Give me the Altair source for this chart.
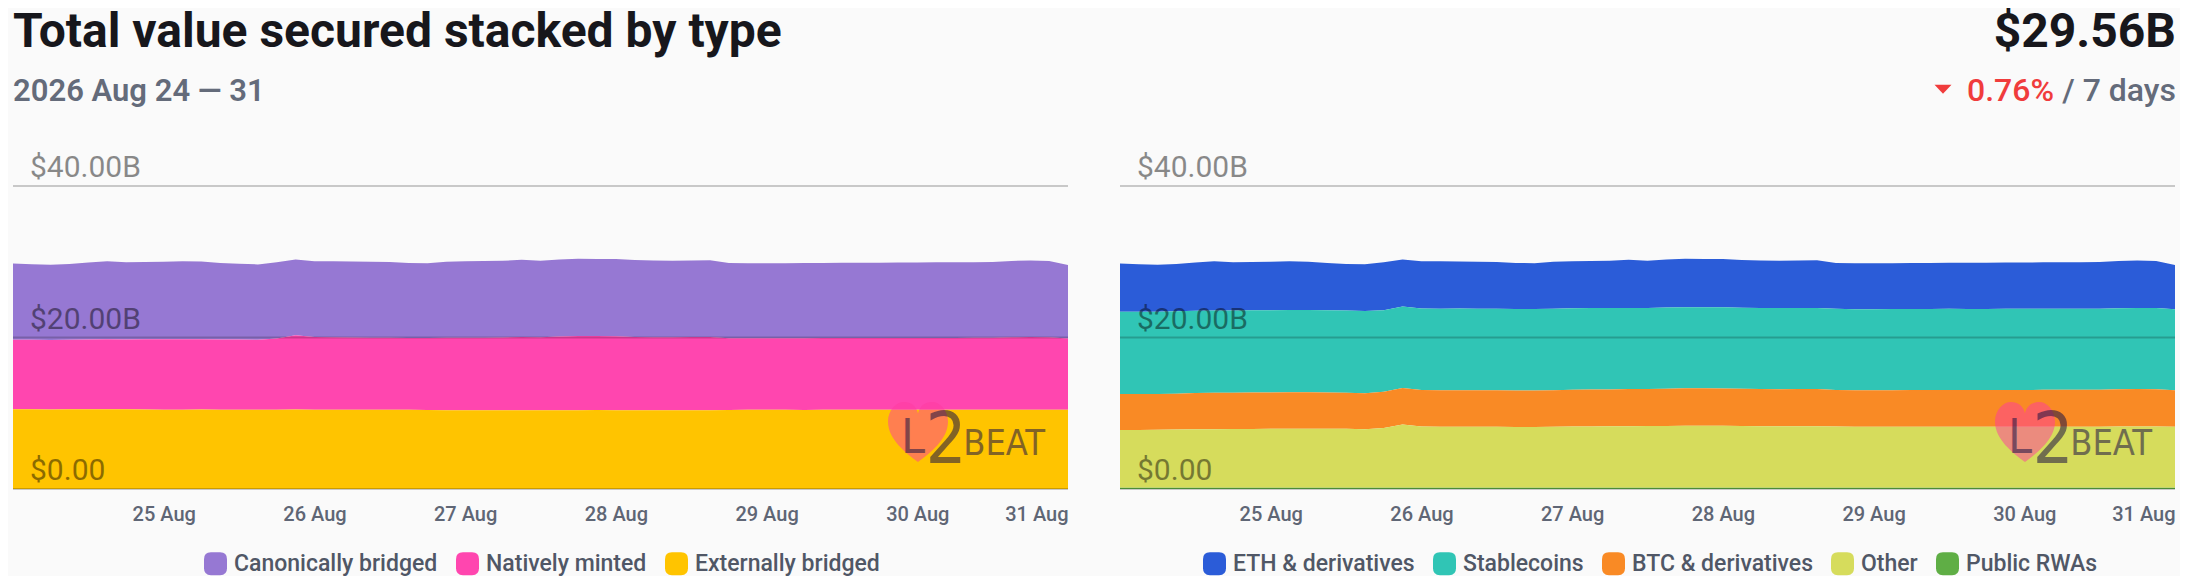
import altair as alt
import pandas as pd

# ---------------- data (values in billions USD, 3-hourly, 24 Aug 00:00 -> 31 Aug 00:00) ----------------
times = pd.date_range("2026-08-24 00:00", periods=57, freq="3h").strftime("%Y-%m-%dT%H:%M:%S").tolist()

LEFT_NAMES = ["Canonically bridged", "Natively minted", "Externally bridged"]
LEFT_COLORS = ["#9678d3", "#ff46af", "#ffc400"]

canonical = [10.05, 9.96, 9.93, 10.00, 10.16, 10.30, 10.19, 10.22, 10.25, 10.28,
             10.24, 10.11, 10.00, 9.96, 10.05, 10.00, 10.01, 10.02, 10.03, 10.03,
             10.00, 9.92, 9.87, 10.02, 10.08, 10.11, 10.12, 10.19, 10.11, 10.18,
             10.19, 10.18, 10.20, 10.15, 10.13, 10.11, 10.12, 10.13, 9.91, 9.89,
             9.89, 9.90, 9.91, 9.91, 9.93, 9.94, 9.94, 9.96, 9.96, 9.98,
             9.98, 9.99, 10.01, 10.08, 10.12, 10.08, 9.70]
native = [9.19, 9.18, 9.16, 9.18, 9.22, 9.24, 9.22, 9.28, 9.29, 9.31,
          9.30, 9.27, 9.25, 9.23, 9.41, 9.83, 9.58, 9.57, 9.53, 9.51,
          9.50, 9.47, 9.52, 9.56, 9.57, 9.58, 9.59, 9.67, 9.62, 9.71,
          9.79, 9.77, 9.75, 9.67, 9.63, 9.62, 9.64, 9.65, 9.47, 9.46,
          9.46, 9.46, 9.47, 9.47, 9.48, 9.48, 9.48, 9.49, 9.49, 9.50,
          9.50, 9.50, 9.51, 9.57, 9.60, 9.57, 9.41]
external = [10.52, 10.52, 10.51, 10.52, 10.52, 10.53, 10.52, 10.48, 10.47, 10.47,
            10.48, 10.47, 10.47, 10.46, 10.47, 10.48, 10.47, 10.47, 10.46, 10.47,
            10.47, 10.46, 10.42, 10.41, 10.41, 10.40, 10.41, 10.41, 10.40, 10.41,
            10.41, 10.42, 10.41, 10.41, 10.40, 10.41, 10.41, 10.41, 10.44, 10.45,
            10.45, 10.45, 10.44, 10.45, 10.45, 10.45, 10.46, 10.45, 10.45, 10.45,
            10.45, 10.46, 10.45, 10.45, 10.45, 10.45, 10.45]

RIGHT_NAMES = ["ETH & derivatives", "Stablecoins", "BTC & derivatives", "Other", "Public RWAs"]
RIGHT_COLORS = ["#2b5cd8", "#30c5b5", "#f98a25", "#d6dc5c", "#5fae45"]

eth = [6.36, 6.27, 6.21, 6.25, 6.38, 6.49, 6.36, 6.38, 6.40, 6.43,
       6.38, 6.25, 6.15, 6.15, 6.34, 6.22, 6.22, 6.25, 6.22, 6.21,
       6.18, 6.10, 6.05, 6.18, 6.21, 6.22, 6.21, 6.37, 6.25, 6.36,
       6.40, 6.37, 6.38, 6.29, 6.27, 6.26, 6.28, 6.30, 6.05, 6.05,
       6.05, 6.06, 6.07, 6.07, 6.09, 6.10, 6.10, 6.12, 6.12, 6.14,
       6.14, 6.15, 6.17, 6.24, 6.27, 6.22, 5.84]
stable = [10.86, 10.86, 10.87, 10.86, 10.86, 10.85, 10.86, 10.86, 10.86, 10.87,
          10.86, 10.86, 10.85, 10.86, 10.77, 10.76, 10.76, 10.76, 10.77, 10.76,
          10.76, 10.75, 10.76, 10.76, 10.76, 10.77, 10.76, 10.70, 10.70, 10.71,
          10.70, 10.70, 10.70, 10.70, 10.71, 10.70, 10.70, 10.70, 10.70, 10.69,
          10.70, 10.70, 10.70, 10.70, 10.71, 10.70, 10.70, 10.70, 10.70, 10.70,
          10.71, 10.70, 10.70, 10.70, 10.70, 10.70, 10.70]
btc = [4.75, 4.73, 4.72, 4.74, 4.78, 4.81, 4.79, 4.80, 4.81, 4.82,
       4.81, 4.78, 4.76, 4.75, 4.78, 4.82, 4.83, 4.83, 4.83, 4.83,
       4.82, 4.80, 4.79, 4.83, 4.85, 4.86, 4.87, 4.90, 4.88, 4.91,
       4.93, 4.93, 4.93, 4.91, 4.90, 4.89, 4.90, 4.90, 4.84, 4.83,
       4.83, 4.83, 4.84, 4.84, 4.85, 4.85, 4.85, 4.86, 4.86, 4.87,
       4.87, 4.87, 4.88, 4.92, 4.94, 4.92, 4.80]
other = [7.64, 7.65, 7.67, 7.70, 7.73, 7.75, 7.77, 7.78, 7.79, 7.80,
         7.81, 7.81, 7.80, 7.75, 7.90, 8.35, 8.10, 8.07, 8.07, 8.06,
         8.06, 8.05, 8.05, 8.07, 8.09, 8.11, 8.13, 8.15, 8.16, 8.18,
         8.21, 8.21, 8.20, 8.18, 8.15, 8.14, 8.14, 8.14, 8.09, 8.07,
         8.06, 8.07, 8.07, 8.08, 8.07, 8.07, 8.06, 8.07, 8.07, 8.07,
         8.08, 8.07, 8.07, 8.09, 8.11, 8.11, 8.07]
rwa = [0.15, 0.15, 0.15, 0.15, 0.15, 0.15, 0.15, 0.15, 0.15, 0.15,
       0.15, 0.15, 0.15, 0.15, 0.15, 0.15, 0.15, 0.15, 0.15, 0.15,
       0.15, 0.15, 0.15, 0.15, 0.15, 0.15, 0.15, 0.15, 0.15, 0.15,
       0.15, 0.15, 0.15, 0.15, 0.15, 0.15, 0.15, 0.15, 0.15, 0.15,
       0.15, 0.15, 0.15, 0.15, 0.15, 0.15, 0.15, 0.15, 0.15, 0.15,
       0.15, 0.15, 0.15, 0.15, 0.15, 0.15, 0.15]

GRID_VALUES = [0, 20, 40]
GRID_LABELS = ["$0.00", "$20.00B", "$40.00B"]
TICK_DAYS = [25, 26, 27, 28, 29, 30, 31]

TITLE = "Total value secured stacked by type"
SUBTITLE = "2026 Aug 24 \u2014 31"
TOTAL = "$29.56B"
CHANGE = "0.76%"
PERIOD = "/ 7 days"

# ---------------- styling ----------------
FONT = "Roboto"
W, H = 1055, 303
ROUNDED = ("M -1 -0.4 Q -1 -1 -0.4 -1 L 0.4 -1 Q 1 -1 1 -0.4 L 1 0.4 "
           "Q 1 1 0.4 1 L -0.4 1 Q -1 1 -1 0.4 Z")
HEART = ("M 0 1 C -0.4 0.7 -1 0.25 -1 -0.35 C -1 -0.75 -0.7 -1 -0.48 -1 "
         "C -0.22 -1 -0.05 -0.85 0 -0.62 C 0.05 -0.85 0.22 -1 0.48 -1 "
         "C 0.7 -1 1 -0.75 1 -0.35 C 1 0.25 0.4 0.7 0 1 Z")
TRI = "M -1 -0.5 L 1 -0.5 L 0 0.55 Z"
LOGO_FONT = "Liberation Sans Narrow, DejaVu Sans Condensed, Roboto"
LOGO_COLOR = "#1d1444"


def long_df(names, series):
    rows = []
    n = len(names)
    for k, (name, vals) in enumerate(zip(names, series)):
        for t, v in zip(times, vals):
            rows.append({"time": t, "series": name, "value": v, "rank": n - 1 - k})
    return pd.DataFrame(rows)


def one(col, val):
    return pd.DataFrame({col: [val]})


def logo_text(txt, size, x, y, align):
    return alt.Chart(one("t", txt)).mark_text(
        align=align, baseline="alphabetic", fontSize=size, font=LOGO_FONT,
        color=LOGO_COLOR, opacity=0.55,
    ).encode(x=alt.value(x), y=alt.value(y), text="t:N")


def panel(names, colors, series, legend_x, header_layers):
    df = long_df(names, series)
    area = alt.Chart(df).mark_area(interpolate="linear", opacity=1).encode(
        x=alt.X(
            "time:T",
            scale=alt.Scale(domain=[alt.DateTime(year=2026, month=8, date=24),
                                    alt.DateTime(year=2026, month=8, date=31)], nice=False),
            axis=alt.Axis(
                values=[alt.DateTime(year=2026, month=8, date=d) for d in TICK_DAYS],
                format="%-d %b", title=None, grid=False, domain=False, ticks=False,
                tickSize=0, labelPadding=31, labelBaseline="alphabetic",
                labelFontSize=20, labelFontWeight=500, labelColor="#5f6675",
                labelFont=FONT, labelFlush=True, labelOverlap=False, labelBound=False,
            ),
        ),
        y=alt.Y("value:Q", stack="zero",
                scale=alt.Scale(domain=[0, 40], nice=False, zero=True), axis=None),
        color=alt.Color(
            "series:N",
            scale=alt.Scale(domain=names, range=colors),
            legend=alt.Legend(
                orient="none", legendX=legend_x, legendY=366, direction="horizontal",
                title=None, symbolType=ROUNDED, symbolSize=529, symbolStrokeWidth=0,
                symbolOpacity=1, labelFontSize=23, labelFontWeight=500,
                labelColor="#505766", labelFont=FONT, labelOffset=7, columnPadding=18,
                labelLimit=400,
            ),
        ),
        order=alt.Order("rank:Q", sort="ascending"),
    )

    gdf = pd.DataFrame({"value": GRID_VALUES, "label": GRID_LABELS})
    rules = alt.Chart(gdf).mark_rule(color="black", opacity=0.2, strokeWidth=2).encode(
        y=alt.Y("value:Q"))
    ylabels = alt.Chart(gdf).mark_text(
        align="left", baseline="alphabetic", dy=-9, fontSize=30, font=FONT,
        color="black", opacity=0.45,
    ).encode(y=alt.Y("value:Q"), x=alt.value(17), text="label:N")

    heart = alt.Chart(one("k", 1)).mark_point(
        shape=HEART, size=3600, filled=True, fill="#ff3aa0", opacity=0.5, strokeWidth=0,
    ).encode(x=alt.value(W - 150), y=alt.value(246))
    logo_l = logo_text("L", 48, W - 155, 267, "center")
    logo_2 = logo_text("2", 72, W - 122, 277, "center")
    logo_b = logo_text("BEAT", 36, W - 23, 269, "right")

    return alt.layer(area, rules, ylabels, heart, logo_l, logo_2, logo_b,
                     *header_layers).properties(width=W, height=H)


left_header = [
    alt.Chart(one("t", TITLE)).mark_text(
        align="left", baseline="alphabetic", fontSize=48, fontWeight="bold", font=FONT,
        color="#17171c").encode(x=alt.value(0), y=alt.value(-139), text="t:N"),
    alt.Chart(one("t", SUBTITLE)).mark_text(
        align="left", baseline="alphabetic", fontSize=31, fontWeight=600, font=FONT,
        color="#646b7a").encode(x=alt.value(0), y=alt.value(-85), text="t:N"),
]
right_header = [
    alt.Chart(one("t", TOTAL)).mark_text(
        align="right", baseline="alphabetic", fontSize=48, fontWeight="bold", font=FONT,
        color="#17171c").encode(x=alt.value(W + 1), y=alt.value(-139), text="t:N"),
    alt.Chart(one("t", PERIOD)).mark_text(
        align="right", baseline="alphabetic", fontSize=32, fontWeight=500, font=FONT,
        color="#646b7a").encode(x=alt.value(W + 1), y=alt.value(-85), text="t:N"),
    alt.Chart(one("t", CHANGE)).mark_text(
        align="right", baseline="alphabetic", fontSize=32, fontWeight=500, font=FONT,
        color="#f03c3c").encode(x=alt.value(W - 121), y=alt.value(-85), text="t:N"),
    alt.Chart(one("k", 1)).mark_point(
        shape=TRI, size=289, filled=True, fill="#f03c3c", opacity=1, strokeWidth=0,
    ).encode(x=alt.value(W - 232), y=alt.value(-97)),
]

left = panel(LEFT_NAMES, LEFT_COLORS, [canonical, native, external], 191, left_header)
right = panel(RIGHT_NAMES, RIGHT_COLORS, [eth, stable, btc, other, rwa], 83, right_header)

chart = alt.hconcat(left, right, spacing=50).resolve_scale(
    color="independent", x="independent"
).properties(
    background="#fafafa",
    padding={"left": 4, "top": 1, "right": 4, "bottom": 0},
).configure(font=FONT).configure_view(stroke=None)

chart.save("out.html", embed_options={"renderer": "svg", "actions": False})
